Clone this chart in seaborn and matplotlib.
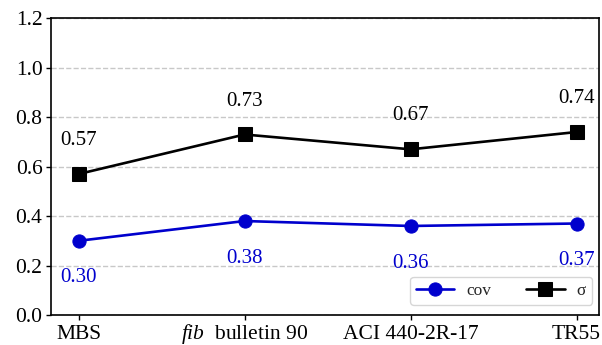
import matplotlib
matplotlib.use("Agg")
import matplotlib.pyplot as plt
import seaborn as sns
import pandas as pd

categories = ["MBS", "fib bulletin 90", "ACI 440-2R-17", "TR55"]
tick_labels = ["MBS", r"$\it{fib}$  bulletin 90", "ACI 440-2R-17", "TR55"]
cov_values = [0.30, 0.38, 0.36, 0.37]
sigma_values = [0.57, 0.73, 0.67, 0.74]

sns.set_theme(style="white")
plt.rcParams["font.family"] = ["Liberation Serif", "DejaVu Serif"]
plt.rcParams["mathtext.fontset"] = "custom"
plt.rcParams["mathtext.it"] = "Liberation Serif:italic"
plt.rcParams["mathtext.rm"] = "Liberation Serif"

blue = "#0000CD"
df = pd.DataFrame({"pos": range(len(categories)), "cov": cov_values, "sigma": sigma_values})

fig = plt.figure(figsize=(6.02, 3.45), dpi=100)
ax = fig.add_axes([0.0855, 0.087, 0.9095, 0.86])

sns.lineplot(data=df, x="pos", y="cov", marker="o", color=blue, linewidth=1.9,
             markersize=9.5, markeredgecolor=blue, label="cov", ax=ax)
sns.lineplot(data=df, x="pos", y="sigma", marker="s", color="black", linewidth=1.9,
             markersize=9.5, markeredgecolor="black", label="σ", ax=ax)

for i, v in enumerate(sigma_values):
    ax.text(i, v + 0.135, f"{v:.2f}", ha="center", va="center", fontsize=15, color="black")
for i, v in enumerate(cov_values):
    ax.text(i, v - 0.15, f"{v:.2f}", ha="center", va="center", fontsize=15, color=blue)

ax.set_xlim(-0.163, 3.135)
ax.set_ylim(0, 1.2)
yt = [0, 0.2, 0.4, 0.6, 0.8, 1.0, 1.2]
ax.set_yticks(yt)
ax.set_yticklabels([f"{t:.1f}" for t in yt])
ax.set_xticks(range(len(categories)))
ax.set_xticklabels(tick_labels)
ax.set_xlabel("")
ax.set_ylabel("")
ax.tick_params(axis="both", labelsize=15.5, direction="out", length=3.5, width=1,
               colors="black", bottom=True, left=True)
ax.tick_params(axis="y", pad=3)
ax.tick_params(axis="x", pad=13.6)
for lab in ax.get_xticklabels():
    lab.set_va("baseline")
ax.yaxis.grid(True, linestyle="--", color="#c8c8c8", linewidth=1)
ax.xaxis.grid(False)
for s in ax.spines.values():
    s.set_color("black")
    s.set_linewidth(1.2)

leg = ax.legend(loc="lower right", ncol=2, fontsize=12.5, handlelength=2.2,
                handletextpad=0.7, columnspacing=2.0, frameon=True, borderpad=0.35,
                borderaxespad=0, bbox_to_anchor=(1 - 7 / 547, 10 / 296))
leg.get_frame().set_edgecolor("#cccccc")

fig.savefig("out.png", dpi=100)
